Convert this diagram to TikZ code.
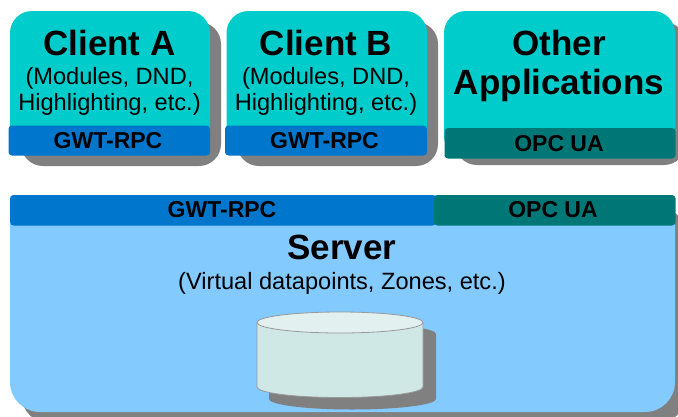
\documentclass[tikz,border=0pt]{standalone}
\usepackage{fontspec}
\setmainfont{Liberation Sans}
\definecolor{tealbox}{HTML}{00CCCC}
\definecolor{bluebar}{HTML}{0077CC}
\definecolor{tealbar}{HTML}{007777}
\definecolor{serverblue}{HTML}{83CAFF}
\definecolor{shadowgray}{HTML}{808080}
\definecolor{cylside}{HTML}{CFE7E5}
\definecolor{cyltop}{HTML}{E3F0F0}
\definecolor{cylline}{HTML}{999999}
\tikzset{
  x=1pt,y=-1pt,
  shadowbox/.style={fill=shadowgray,rounded corners=22pt},
  appbox/.style={fill=tealbox,rounded corners=22pt},
  bar/.style={rounded corners=3.5pt},
  title/.style={anchor=base,inner sep=0pt,font=\fontsize{35}{35}\selectfont\bfseries},
  sub/.style={anchor=base,inner sep=0pt,font=\fontsize{23.6}{24}\selectfont},
  protocol/.style={anchor=base,inner sep=0pt,font=\fontsize{23}{24}\selectfont\bfseries},
}
\begin{document}
\begin{tikzpicture}
\useasboundingbox (0,0) rectangle (678,416);
\clip (0,0) rectangle (678,416);
% shadows
\fill[shadowbox] (21,22) rectangle (221,166);
\fill[shadowbox] (237,22) rectangle (438,166);
\fill[shadowbox] (455,22) rectangle (686,165);
\fill[rounded corners=30pt,fill=shadowgray] (21,206) rectangle (686,424);
% client A
\fill[appbox] (10,11) rectangle (210,155);
\fill[bar,bluebar] (8.5,125.5) rectangle (210,155.5);
\node[title] (clienta) at (109.5,55) {Client A};
\node[sub] (suba1) at (109.5,84) {(Modules, DND,};
\node[sub] (suba2) at (109.5,110) {Highlighting, etc.)};
\node[protocol] (rpca) at (108,148) {GWT-RPC};
% client B
\fill[appbox] (226.5,11) rectangle (427,155);
\fill[bar,bluebar] (225,125.5) rectangle (427,155.5);
\node[title] (clientb) at (326,55) {Client B};
\node[sub] (subb1) at (326,84) {(Modules, DND,};
\node[sub] (subb2) at (326,110) {Highlighting, etc.)};
\node[protocol] (rpcb) at (324.5,148) {GWT-RPC};
% other
\fill[appbox] (444,11) rectangle (675,158);
\fill[bar,tealbar] (444.5,128) rectangle (675.5,158.5);
\node[title] (other1) at (559,55) {Other};
\node[title] (other2) at (559,94) {Applications};
\node[protocol] (opca) at (559,151) {OPC UA};
% server
\fill[rounded corners=30pt,fill=serverblue] (10,195) rectangle (675,412);
\fill[bar,bluebar] (10,195) rectangle (436,225.5);
\fill[bar,tealbar] (434,195) rectangle (675.5,225.5);
\node[protocol] (rpcs) at (222,217) {GWT-RPC};
\node[protocol] (opcs) at (553,217) {OPC UA};
\node[title] (server) at (342,259) {Server};
\node[sub] (subs) at (342,289) {(Virtual datapoints, Zones, etc.)};
% database
\fill[shadowgray] (269,334) -- (269,399) .. controls (269,404.8) and (306,409.5) .. (352,409.5)
  .. controls (398,409.5) and (436,404.8) .. (436,399) -- (436,334)
  .. controls (436,328) and (398,324) .. (352,324)
  .. controls (306,324) and (269,328) .. (269,334) -- cycle;
\path[fill=cylside,draw=cylline,line width=0.8pt] (257,322.5) -- (257,387)
  .. controls (257,392.8) and (294,397.5) .. (340,397.5)
  .. controls (386,397.5) and (423,392.8) .. (423,387) -- (423,322.5) -- cycle;
\path[fill=cyltop,draw=cylline,line width=0.8pt] (340,322.5) ellipse[x radius=83,y radius=10.5];
\end{tikzpicture}
\end{document}
